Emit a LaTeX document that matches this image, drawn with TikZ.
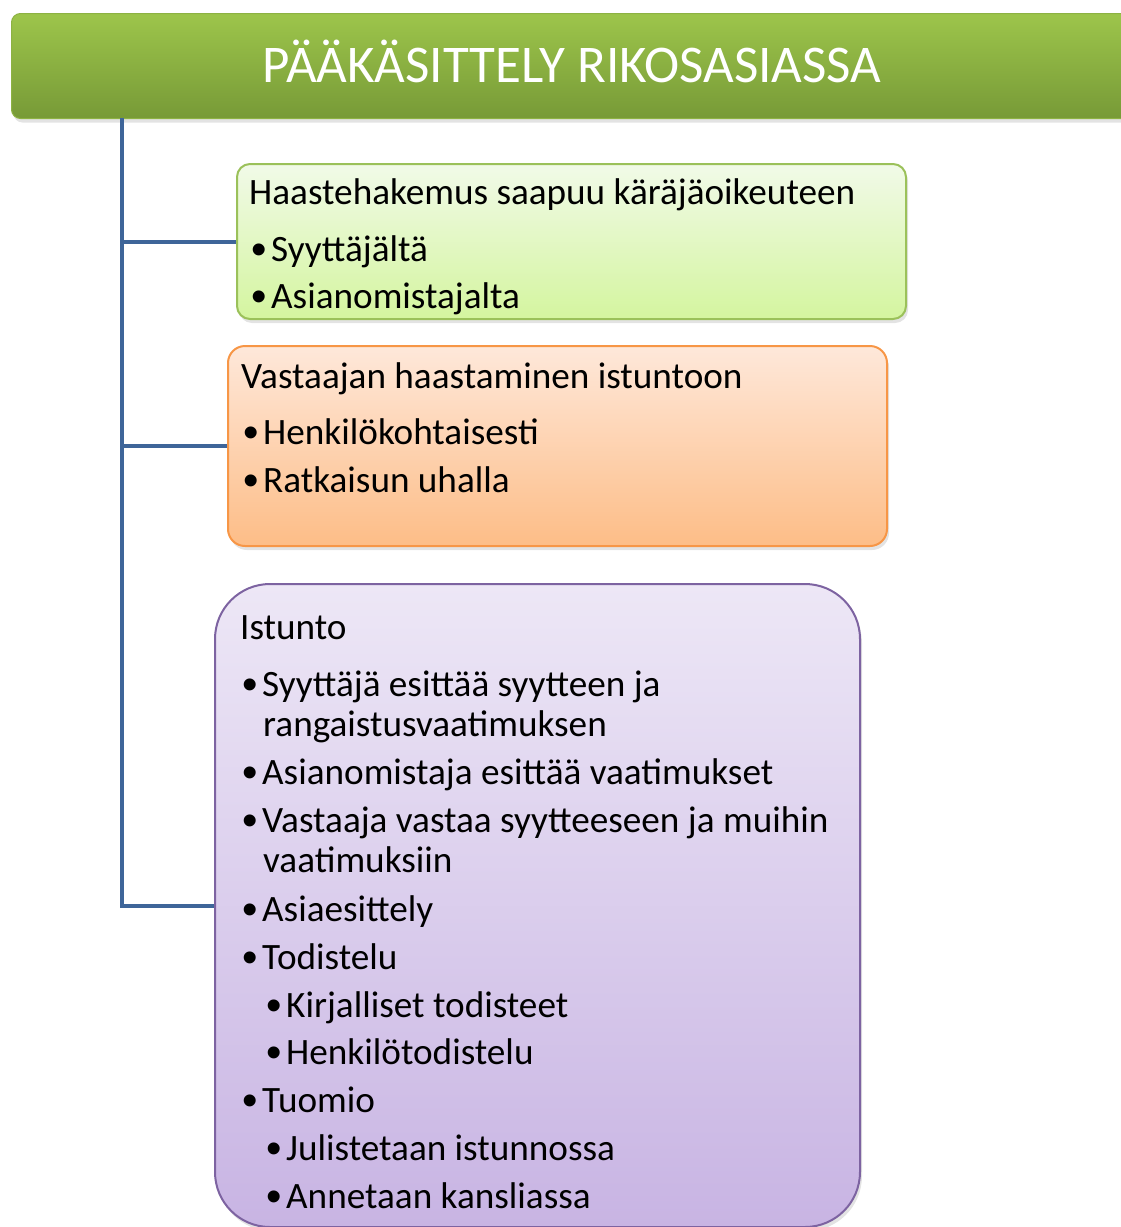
\documentclass[tikz,border=0pt]{standalone}
\usepackage{fontspec}
\setmainfont{Carlito}
\newfontfamily\bulfont{Liberation Sans}
\usetikzlibrary{shadows}
\definecolor{hdtop}{HTML}{9DC54B}
\definecolor{hdbot}{HTML}{779A37}
\definecolor{hdline}{HTML}{8DB243}
\definecolor{conn}{HTML}{3E6599}
\definecolor{gtop}{HTML}{F1FAE8}
\definecolor{gbot}{HTML}{D4F59F}
\definecolor{gline}{HTML}{9BC15A}
\definecolor{otop}{HTML}{FEE8DA}
\definecolor{obot}{HTML}{FDBD87}
\definecolor{oline}{HTML}{F79646}
\definecolor{ptop}{HTML}{EDE7F6}
\definecolor{pbot}{HTML}{C8B4E3}
\definecolor{pline}{HTML}{7D63A1}
\tikzset{
  shadowed/.style={drop shadow={opacity=0.22, shadow xshift=2pt, shadow yshift=-4pt}},
  header/.style={shadowed, draw=hdline, line width=1pt, top color=hdtop, bottom color=hdbot,
    rounded corners=9pt, anchor=north west, inner sep=0pt},
  gbox/.style={shadowed, draw=gline, line width=2pt, top color=gtop, bottom color=gbot,
    rounded corners=13pt, anchor=north west, inner sep=0pt},
  obox/.style={shadowed, draw=oline, line width=2pt, top color=otop, bottom color=obot,
    rounded corners=17pt, anchor=north west, inner sep=0pt},
  pbox/.style={shadowed, draw=pline, line width=2pt, top color=ptop, bottom color=pbot,
    rounded corners=55pt, anchor=north west, inner sep=0pt},
  txt/.style={anchor=base west, inner sep=0pt, font=\fontsize{37.2}{44}\selectfont, text=black},
  title/.style={anchor=base, inner sep=0pt, font=\fontsize{53}{64}\selectfont, text=white},
  conline/.style={draw=conn, line width=4pt, line join=miter},
}
\newcommand{\bul}[1]{\makebox[21pt][l]{\hspace{1pt}\raisebox{-3pt}{\bulfont\fontsize{44}{44}\selectfont •}}#1}
\begin{document}
\begin{tikzpicture}[x=1pt, y=-1pt]
\useasboundingbox (0,0) rectangle (1120,1227);
% header
\node[header, minimum width=1130pt, minimum height=105pt] (hd) at (11,13) {};
\node[title] (ttl) at (572,82) {PÄÄKÄSITTELY RIKOSASIASSA};
\coordinate (hx) at (122,118);
% boxes
\node[gbox, minimum width=669pt, minimum height=155pt] (b1) at (236,163) {};
\node[obox, minimum width=659pt, minimum height=200pt] (b2) at (227,345) {};
\node[pbox, minimum width=645pt, minimum height=643pt] (b3) at (214,583) {};
% connectors
\draw[conline] (hx) |- (b1.west);
\draw[conline] (hx) |- (b2.west);
\draw[conline] (hx) |- (b3.west);
% box 1 text
\node[txt] (t11) at (249,204) {Haastehakemus saapuu käräjäoikeuteen};
\node[txt] (t12) at (250,261) {\bul{Syyttäjältä}};
\node[txt] (t13) at (250,308) {\bul{Asianomistajalta}};
% box 2 text
\node[txt] (t21) at (241,388) {Vastaajan haastaminen istuntoon};
\node[txt] (t22) at (242,444) {\bul{Henkilökohtaisesti}};
\node[txt] (t23) at (242,492) {\bul{Ratkaisun uhalla}};
% box 3 text
\node[txt] (t31) at (240,639) {Istunto};
\node[txt] (t32) at (241,696) {\bul{Syyttäjä esittää syytteen ja}};
\node[txt] (t33) at (263,736) {rangaistusvaatimuksen};
\node[txt] (t34) at (241,784) {\bul{Asianomistaja esittää vaatimukset}};
\node[txt] (t35) at (241,832) {\bul{Vastaaja vastaa syytteeseen ja muihin}};
\node[txt] (t36) at (263,872) {vaatimuksiin};
\node[txt] (t37) at (241,921) {\bul{Asiaesittely}};
\node[txt] (t38) at (241,969) {\bul{Todistelu}};
\node[txt] (t39) at (265,1017) {\bul{Kirjalliset todisteet}};
\node[txt] (t310) at (265,1064) {\bul{Henkilötodistelu}};
\node[txt] (t311) at (241,1112) {\bul{Tuomio}};
\node[txt] (t312) at (265,1160) {\bul{Julistetaan istunnossa}};
\node[txt] (t313) at (265,1208) {\bul{Annetaan kansliassa}};
\end{tikzpicture}
\end{document}
